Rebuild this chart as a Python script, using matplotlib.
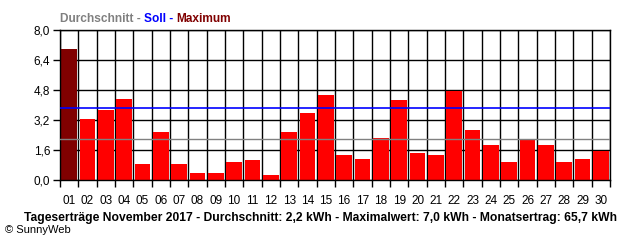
import numpy as np
import matplotlib
matplotlib.use('Agg')
import matplotlib.pyplot as plt
from matplotlib.ticker import FixedLocator

# daily yields November 2017 (kWh)
days = ['%02d' % d for d in range(1, 31)]
yields = [7.00, 3.25, 3.73, 4.32, 0.85, 2.56, 0.85, 0.37, 0.37, 0.96,
          1.07, 0.27, 2.56, 3.57, 4.53, 1.33, 1.12, 2.24, 4.27, 1.44,
          1.33, 4.77, 2.67, 1.87, 0.96, 2.17, 1.87, 0.96, 1.12, 1.55]
average = 2.2
target = 3.83
y_ticks = [0.0, 1.6, 3.2, 4.8, 6.4, 8.0]

plt.rcParams['font.family'] = ['Liberation Sans', 'DejaVu Sans']

fig = plt.figure(figsize=(6.4, 2.4), dpi=100)
ax = fig.add_axes([60 / 640, 60 / 240, 550 / 640, 150 / 240])

x = np.arange(len(days))
max_idx = int(np.argmax(yields))
colors = ['#800000' if i == max_idx else '#ff0000' for i in range(len(days))]
ax.bar(x, yields, width=0.86, color=colors, zorder=2)

ax.axhline(average, color='#808080', lw=1, zorder=3)
ax.axhline(target, color='#0000ff', lw=1.2, zorder=3)

ax.set_xlim(-0.5, len(days) - 0.5)
ax.set_ylim(0, 8.0)

# labels centred, ticks + grid at day boundaries
ax.set_xticks(x)
ax.set_xticklabels(days)
ax.xaxis.set_minor_locator(FixedLocator(np.arange(-0.5, len(days), 1)))
ax.tick_params(axis='x', which='major', length=0, pad=11, labelsize=8.5)
ax.tick_params(axis='x', which='minor', length=5, width=1, color='black')
ax.grid(True, axis='x', which='minor', color='black', lw=1, zorder=1)

ax.set_yticks(y_ticks)
ax.set_yticklabels([('%.1f' % v).replace('.', ',') for v in y_ticks])
ax.tick_params(axis='y', length=5, width=1, labelsize=8.5, pad=2)
ax.grid(True, axis='y', color='black', lw=1, zorder=1)
ax.set_axisbelow(True)

for s in ax.spines.values():
    s.set_linewidth(1)

# coloured legend title
t1 = fig.text(60 / 640, 1 - 22 / 240, 'Durchschnitt - ', color='#808080',
              fontsize=8.6, fontweight='bold', va='baseline')
t2 = ax.annotate('Soll - ', xy=(1, 0), xycoords=t1, color='#0000ff',
                 fontsize=8.6, fontweight='bold', va='bottom')
ax.annotate('Maximum', xy=(1, 0), xycoords=t2, color='#800000',
            fontsize=8.6, fontweight='bold', va='bottom')

fig.text(321 / 640, 1 - 221 / 240,
         'Tageserträge November 2017 - Durchschnitt: 2,2 kWh - '
         'Maximalwert: 7,0 kWh - Monatsertrag: 65,7 kWh',
         ha='center', va='baseline', fontsize=8.75, fontweight='bold')
fig.text(5 / 640, 1 - 233 / 240, '© SunnyWeb', ha='left', va='baseline',
         fontsize=8)

plt.savefig('out.png', dpi=100)
plt.close()
